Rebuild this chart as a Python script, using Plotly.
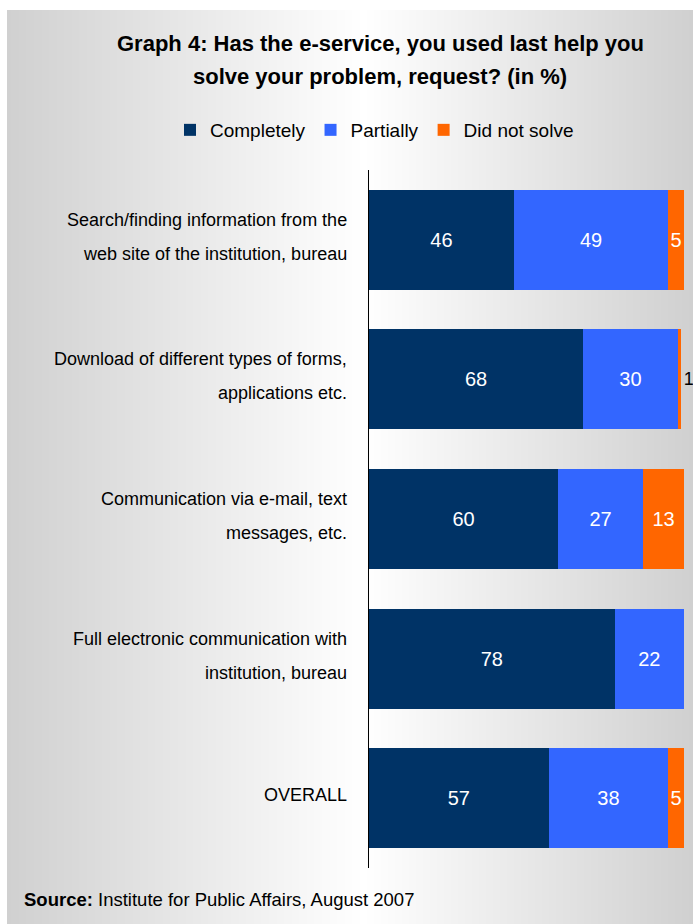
import base64
import struct
import zlib

import plotly.graph_objects as go

# ---- data ---------------------------------------------------------------
categories = [
    "Search/finding information from the\nweb site of the institution, bureau",
    "Download of different types of forms,\napplications etc.",
    "Communication via e-mail, text\nmessages, etc.",
    "Full electronic communication with\ninstitution, bureau",
    "OVERALL",
]
series_names = ["Completely", "Partially", "Did not solve"]
completely = [46, 68, 60, 78, 57]
partially = [49, 30, 27, 22, 38]
did_not_solve = [5, 1, 13, 0, 5]

title_lines = [
    "Graph 4: Has the e-service, you used last help you",
    "solve your problem, request? (in %)",
]
source_label = "Source:"
source_text = "Institute for Public Affairs, August 2007"

# ---- styling ------------------------------------------------------------
W, H = 693, 924
M_L, M_R, M_T, M_B = 369, 9, 170, 56
FONT = "Liberation Sans, Arial, sans-serif"
colors = ["#003366", "#3366FF", "#FF6600"]

y_keys = [c.replace("\n", " ") for c in categories]
pw, ph = W - M_L - M_R, H - M_T - M_B


def px_x(px):
    """Horizontal pixel position -> paper units."""
    return (px - M_L) / pw


def px_y(py):
    """Vertical pixel position (from top) -> paper units."""
    return (H - py - M_B) / ph


def gradient_png(width, left=208, mid=255, right=208, peak=0.52):
    """1-pixel-high horizontal grey gradient as a PNG data URI."""
    row = bytearray([0])
    for i in range(width):
        t = i / (width - 1)
        if t <= peak:
            v = left + (mid - left) * (t / peak)
        else:
            v = mid + (right - mid) * ((t - peak) / (1 - peak))
        g = int(round(v))
        row += bytes([g, g, g])
    raw = bytes(row)

    def chunk(tag, data):
        c = struct.pack(">I", len(data)) + tag + data
        return c + struct.pack(">I", zlib.crc32(tag + data) & 0xFFFFFFFF)

    png = b"\x89PNG\r\n\x1a\n"
    png += chunk(b"IHDR", struct.pack(">IIBBBBB", width, 1, 8, 2, 0, 0, 0))
    png += chunk(b"IDAT", zlib.compress(raw))
    png += chunk(b"IEND", b"")
    return "data:image/png;base64," + base64.b64encode(png).decode()


fig = go.Figure()

series = [completely, partially, did_not_solve]
for name, vals, col in zip(series_names, series, colors):
    is_last = vals is did_not_solve
    text = [str(v) if v else "" for v in vals]
    if is_last:
        # very thin segments get their value printed just past the bar end
        outside = [0 < v < 3 for v in vals]
        positions = ["outside" if o else "inside" for o in outside]
        font_colors = ["#000000" if o else "#FFFFFF" for o in outside]
        font_sizes = [18 if o else 20 for o in outside]
    else:
        positions = ["inside"] * len(vals)
        font_colors = ["#FFFFFF"] * len(vals)
        font_sizes = [20] * len(vals)
    fig.add_trace(
        go.Bar(
            name=name,
            y=y_keys,
            x=vals,
            orientation="h",
            marker=dict(color=col, line=dict(width=0)),
            text=text,
            textposition=positions,
            insidetextanchor="middle",
            textangle=0,
            constraintext="none",
            cliponaxis=False,
            textfont=dict(family=FONT, size=font_sizes, color=font_colors),
            hoverinfo="skip",
        )
    )

# category labels, one annotation per text line
line_step = 34
for key, cat in zip(y_keys, categories):
    lines = cat.split("\n")
    n = len(lines)
    for i, ln in enumerate(lines):
        offset = ((n - 1) / 2 - i) * line_step
        fig.add_annotation(
            x=0, xref="paper", y=key, yref="y",
            text=ln, showarrow=False,
            xanchor="right", yanchor="middle",
            xshift=-20, yshift=offset + 3,
            font=dict(family=FONT, size=18, color="#000000"),
        )

# title
for i, ln in enumerate(title_lines):
    fig.add_annotation(
        x=px_x(380), y=px_y(43 + 33 * i), xref="paper", yref="paper",
        text=f"<b>{ln}</b>", showarrow=False,
        xanchor="center", yanchor="middle",
        font=dict(family=FONT, size=22, color="#000000"),
    )

# source line
fig.add_annotation(
    x=px_x(22), y=px_y(900), xref="paper", yref="paper",
    text=f"<b>{source_label}</b> {source_text}", showarrow=False,
    xanchor="left", yanchor="middle",
    font=dict(family=FONT, size=18.5, color="#000000"),
)

# grey panel with a horizontal gradient behind everything
panel_x0, panel_y0 = 7, 10
fig.add_layout_image(
    source=gradient_png(W - panel_x0),
    xref="paper", yref="paper",
    x=px_x(panel_x0), y=px_y(panel_y0),
    sizex=(W - panel_x0) / pw, sizey=(H - panel_y0) / ph,
    xanchor="left", yanchor="top",
    sizing="stretch", layer="below",
)

fig.update_layout(
    width=W, height=H,
    margin=dict(l=M_L, r=M_R, t=M_T, b=M_B, autoexpand=False),
    barmode="stack",
    bargap=0.284,
    paper_bgcolor="#FFFFFF",
    plot_bgcolor="rgba(0,0,0,0)",
    font=dict(family=FONT, color="#000000"),
    showlegend=True,
    legend=dict(
        orientation="h",
        x=px_x(170), y=px_y(130),
        xanchor="left", yanchor="middle",
        bgcolor="rgba(0,0,0,0)",
        font=dict(family=FONT, size=19, color="#000000"),
        itemclick=False, itemdoubleclick=False,
        traceorder="normal",
    ),
    xaxis=dict(
        range=[0, 100], showgrid=False, zeroline=False,
        showticklabels=False, showline=False, ticks="",
        fixedrange=True,
    ),
    yaxis=dict(
        autorange="reversed", showgrid=False, zeroline=False,
        showticklabels=False, ticks="",
        showline=True, linecolor="#000000", linewidth=1,
        fixedrange=True,
    ),
)

fig.write_html("out.html")
